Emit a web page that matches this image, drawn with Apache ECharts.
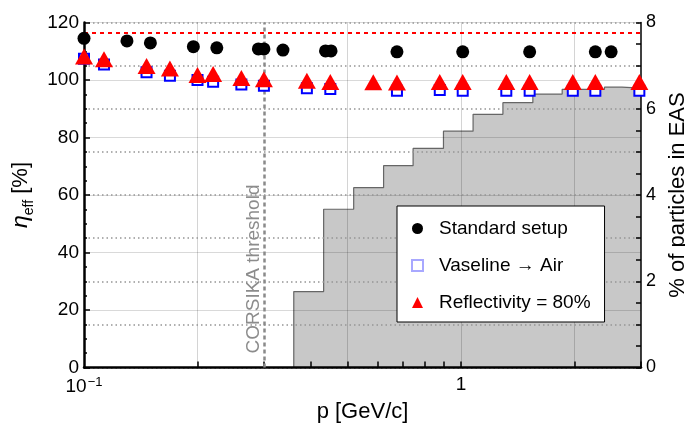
<!DOCTYPE html>
<html><head><meta charset="utf-8">
<script src="https://cdn.jsdelivr.net/npm/echarts@6/dist/echarts.min.js"></script>
<style>html,body{margin:0;padding:0;background:#fff}#c{width:685px;height:433px}</style>
</head><body><div id="c"></div>
<script>
// ---- data ----
const stdX = [0.1, 0.130, 0.150, 0.195, 0.225, 0.290, 0.300, 0.337, 0.437, 0.452, 0.676, 1.01, 1.52, 2.27, 2.50];
const stdY = [114.5, 113.6, 112.9, 111.6, 111.2, 110.8, 110.8, 110.4, 110.1, 110.1, 109.8, 109.8, 109.8, 109.8, 109.8];
const vasX = [0.1, 0.113, 0.1465, 0.169, 0.2, 0.220, 0.2614, 0.30, 0.390, 0.450, 0.676, 0.878, 1.01, 1.318, 1.52, 1.978, 2.27, 2.97];
const vasY = [107.4, 105.4, 102.7, 101.5, 100.0, 99.4, 98.4, 98.0, 97.1, 96.9, 96.3, 96.5, 96.3, 96.3, 96.3, 96.3, 96.3, 96.3];
const refX = [0.1, 0.113, 0.1465, 0.169, 0.2, 0.220, 0.2614, 0.30, 0.390, 0.450, 0.585, 0.676, 0.878, 1.01, 1.318, 1.52, 1.978, 2.27, 2.97];
const refY = [108.2, 107.2, 104.9, 104.0, 101.7, 102.1, 100.7, 100.3, 99.7, 99.3, 99.2, 99.1, 99.3, 99.3, 99.3, 99.3, 99.3, 99.3, 99.3];
const histEdges = [0.36, 0.432, 0.519, 0.623, 0.746, 0.898, 1.076, 1.291, 1.55, 1.854, 2.40, 2.67, 3.0];
const histVals = [1.76, 3.67, 4.17, 4.68, 5.08, 5.48, 5.87, 6.14, 6.34, 6.45, 6.50, 6.48];
const refLevel = 116.6;
const corsikaThreshold = 0.3;
const xTickVals = [0.2, 0.3, 0.4, 0.5, 0.6, 0.7, 0.8, 0.9, 1, 2, 3];
const xLabelVals = [0.1, 1];
const xGridVals = [0.2, 0.5, 1, 2];
const seriesNames = ['Standard setup', 'Vaseline \u2192 Air', 'Reflectivity = 80%'];

const F = '"Liberation Sans", Arial, Helvetica, sans-serif';
const zip = (a, b) => a.map((v, i) => [v, b[i]]);
const histPts = [];
histPts.push([histEdges[0], 0]);
histVals.forEach((h, i) => { histPts.push([histEdges[i], h]); histPts.push([histEdges[i + 1], h]); });

const chart = echarts.init(document.getElementById('c'), null, {renderer: 'canvas'});
chart.setOption({
  animation: false,
  backgroundColor: '#fff',
  textStyle: {fontFamily: F},
  grid: {left: 84, right: 44, top: 22.5, bottom: 65.5, containLabel: false, outerBoundsMode: 'none'},
  legend: {
    orient: 'vertical', left: 397, top: 206,
    padding: [13, 14, 10, 14], itemGap: 18,
    itemWidth: 11, itemHeight: 11,
    backgroundColor: '#fff', borderColor: '#000', borderWidth: 1,
    textStyle: {fontSize: 19, color: '#000', fontFamily: F, padding: [0, 0, 0, 11]},
    data: [
      {name: seriesNames[0], icon: 'circle', itemStyle: {color: '#000', opacity: 1}},
      {name: seriesNames[1], icon: 'rect', itemStyle: {color: '#fff', borderColor: '#a8a8ff', borderWidth: 2, opacity: 1}},
      {name: seriesNames[2], icon: 'triangle', itemStyle: {color: '#ff0000', opacity: 1}}
    ]
  },
  xAxis: [{
    type: 'log', logBase: 10, min: 0.1, max: 3, position: 'bottom', z: 3,
    axisLine: {show: true, onZero: false, lineStyle: {color: '#000', width: 2.5}},
    axisTick: {show: true, inside: true, length: 6, customValues: xTickVals, lineStyle: {color: '#000', width: 1.5}},
    axisLabel: {
      customValues: xLabelVals, margin: 8, color: '#000',
      formatter: v => (Math.abs(v - 0.1) < 1e-9 ? '{b|10}{s|\u22121}' : '{b|1}'),
      rich: {
        b: {fontSize: 19, color: '#000', fontFamily: F, verticalAlign: 'bottom', padding: [0, 0, 0, 0]},
        s: {fontSize: 13, color: '#000', fontFamily: F, verticalAlign: 'bottom', padding: [0, 0, 8, 1]}
      }
    },
    splitLine: {show: false},
    name: 'p [GeV/c]', nameLocation: 'middle', nameGap: 30,
    nameTextStyle: {fontSize: 22, color: '#000', fontFamily: F}
  }, {
    type: 'log', logBase: 10, min: 0.1, max: 3, position: 'top', z: 2,
    axisLine: {show: false}, axisLabel: {show: false},
    axisTick: {show: false, customValues: xGridVals},
    splitLine: {show: true, lineStyle: {color: 'rgba(0,0,0,0.17)', width: 1}}
  }],
  yAxis: [{
    type: 'value', min: 0, max: 120, interval: 20, position: 'left', z: 3,
    axisLine: {show: true, onZero: false, lineStyle: {color: '#000', width: 2.5}},
    axisTick: {show: true, inside: true, length: 6, lineStyle: {color: '#000', width: 1.5}},
    minorTick: {show: true, splitNumber: 4, length: 3, lineStyle: {color: '#000', width: 1.5}},
    axisLabel: {fontSize: 19, color: '#000', fontFamily: F, margin: 5},
    splitLine: {show: true, lineStyle: {color: 'rgba(0,0,0,0.15)', width: 1}},
    name: '{e|\u03b7}{s|eff}{n| [%]}', nameLocation: 'middle', nameGap: 41, nameRotate: 90,
    nameTextStyle: {
      rich: {
        e: {fontSize: 23, fontStyle: 'italic', color: '#000', fontFamily: F, verticalAlign: 'bottom', padding: [0, 0, 4, 0]},
        s: {fontSize: 14, color: '#000', fontFamily: F, verticalAlign: 'bottom'},
        n: {fontSize: 22, color: '#000', fontFamily: F, verticalAlign: 'bottom', padding: [0, 0, 4, 0]}
      }
    }
  }, {
    type: 'value', min: 0, max: 8, interval: 1, position: 'right', z: 3,
    axisLine: {show: true, onZero: false, lineStyle: {color: '#000', width: 1.5}},
    axisTick: {show: true, inside: true, length: 5, lineStyle: {color: '#000', width: 1.5}},
    minorTick: {show: true, splitNumber: 2, length: 5, lineStyle: {color: '#000', width: 1.5}},
    axisLabel: {fontSize: 18, color: '#000', fontFamily: F, margin: 5, formatter: v => (v % 2 ? '' : String(v))},
    splitLine: {show: true, lineStyle: {color: '#959595', width: 1.5, type: [1.5, 3]}},
    name: '% of particles in EAS', nameLocation: 'middle', nameGap: 26, nameRotate: 90,
    nameTextStyle: {fontSize: 22, color: '#000', fontFamily: F}
  }],
  series: [{
    name: 'hist', type: 'line', xAxisIndex: 0, yAxisIndex: 1, data: histPts,
    symbol: 'none', showSymbol: false, silent: true, z: 1,
    lineStyle: {color: '#666', width: 1.2},
    areaStyle: {color: '#c8c8c8', opacity: 1}
  }, {
    name: seriesNames[1], type: 'scatter', xAxisIndex: 0, yAxisIndex: 0, data: zip(vasX, vasY),
    symbol: 'rect', symbolSize: 10, z: 5,
    itemStyle: {color: '#fff', borderColor: '#0000ff', borderWidth: 2, opacity: 1}
  }, {
    name: seriesNames[2], type: 'scatter', xAxisIndex: 0, yAxisIndex: 0, data: zip(refX, refY),
    symbol: 'triangle', symbolSize: [18, 16], z: 6,
    itemStyle: {color: '#ff0000', opacity: 1}
  }, {
    name: seriesNames[0], type: 'scatter', xAxisIndex: 0, yAxisIndex: 0, data: zip(stdX, stdY),
    symbol: 'circle', symbolSize: 13, z: 6,
    itemStyle: {color: '#000', opacity: 1},
    markLine: {
      silent: true, symbol: 'none', animation: false,
      data: [
        {yAxis: refLevel, lineStyle: {color: '#ff0000', width: 2, type: [4, 4], opacity: 1}, label: {show: false}},
        {xAxis: corsikaThreshold, lineStyle: {color: '#8a8a8a', width: 2.5, type: [4, 3], opacity: 1},
         label: {show: true, position: 'insideStartTop', formatter: 'CORSIKA threshold',
                 color: '#8c8c8c', fontSize: 19, fontFamily: F, distance: [14, 1]}}
      ]
    }
  }]
});
</script>
</body></html>
